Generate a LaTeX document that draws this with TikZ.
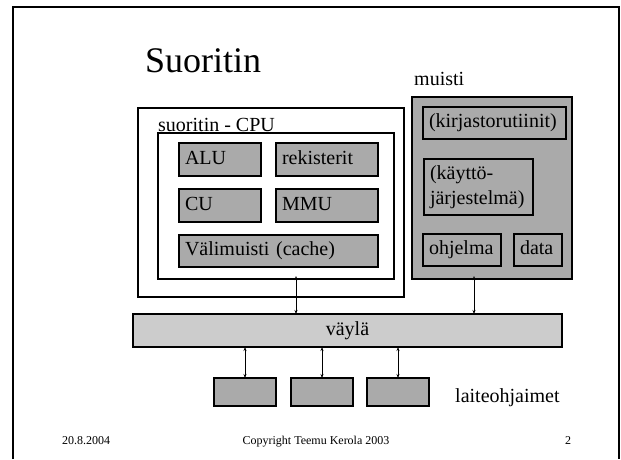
\documentclass[tikz,border=0pt]{standalone}
\usepackage{fontspec}
\setmainfont{Liberation Serif}
\usetikzlibrary{arrows.meta}
\definecolor{compgray}{RGB}{170,170,170}
\definecolor{busgray}{RGB}{204,204,204}
\begin{document}
\begin{tikzpicture}[x=1pt,y=-1pt,
  comp/.style={draw, line width=1.1pt, fill=compgray, anchor=north west, inner xsep=6pt, inner ysep=0pt, outer sep=0pt, align=left, text height=14pt, text depth=4.5pt, font=\fontsize{20}{25}\selectfont},
  box/.style={draw, line width=2.6pt, anchor=north west, inner sep=0pt, outer sep=0pt},
  dev/.style={draw, line width=2.6pt, fill=compgray, anchor=north west, inner sep=0pt, outer sep=0pt, minimum width=62pt, minimum height=28pt},
  lbl/.style={anchor=base west, inner sep=0pt, font=\fontsize{20}{24}\selectfont},
  foot/.style={anchor=base, inner sep=0pt, font=\fontsize{12}{14}\selectfont},
  arr/.style={{Stealth[length=4pt,width=3pt]}-{Stealth[length=4pt,width=3pt]}, line width=0.8pt}
]
\useasboundingbox (0,0) rectangle (621,459);
\fill[white] (0,0) rectangle (621,459);
% slide frame
\draw[line width=1.6pt] (13,459) -- (13,7) -- (619,7) -- (619,459);
% title
\node[anchor=base west, inner sep=0pt, font=\fontsize{36}{40}\selectfont] (title) at (145,72) {Suoritin};
% CPU
\node[box, minimum width=266pt, minimum height=189pt] (cpu) at (138,108) {};
\node[box, minimum width=236pt, minimum height=146pt] (inner) at (158,133) {};
\node[lbl] (cpulbl) at (158,131) {suoritin - CPU};
\node[comp, minimum width=82pt, minimum height=33pt, text width=70pt] (alu) at (179,143) {ALU};
\node[comp, minimum width=102pt, minimum height=33pt, text width=90pt] (reg) at (276,143) {rekisterit};
\node[comp, minimum width=82pt, minimum height=33pt, text width=70pt] (cu) at (179,189) {CU};
\node[comp, minimum width=102pt, minimum height=33pt, text width=90pt] (mmu) at (276,189) {MMU};
\node[comp, minimum width=199pt, minimum height=32pt, text width=187pt] (cache) at (179,235) {Välimuisti (cache)};
% memory
\node[lbl] (memlbl) at (414,85) {muisti};
\node[box, fill=compgray, minimum width=160pt, minimum height=182pt] (mem) at (412,97) {};
\node[comp, minimum width=143pt, minimum height=32pt, text width=131pt] (lib) at (423,107) {(kirjastorutiinit)};
\node[comp, minimum width=109pt, minimum height=56pt, text width=97pt, text depth=29.5pt] (os) at (424,159) {(käyttö-\\järjestelmä)};
\node[comp, minimum width=78pt, minimum height=32pt, text width=66pt] (prog) at (423,234) {ohjelma};
\node[comp, minimum width=48pt, minimum height=32pt, text width=36pt] (data) at (514,234) {data};
% bus
\node[draw, line width=2pt, fill=busgray, anchor=north west, inner sep=0pt, outer sep=0pt, minimum width=429pt, minimum height=33pt, text height=14pt, text depth=4.5pt, font=\fontsize{20}{24}\selectfont] (bus) at (133,314) {väylä};
% devices
\node[dev] (d1) at (214,378) {};
\node[dev] (d2) at (291,378) {};
\node[dev] (d3) at (367,378) {};
\node[lbl] (devlbl) at (455,402) {laiteohjaimet};
% connectors
\coordinate (cpux) at (296,0);
\coordinate (memx) at (474,0);
\draw[arr] ([yshift=3pt]inner.south -| cpux) -- (bus.north -| cpux);
\draw[arr] ([yshift=3pt]mem.south -| memx) -- (bus.north -| memx);
\draw[arr] (bus.south -| d1.north) -- (d1.north);
\draw[arr] (bus.south -| d2.north) -- (d2.north);
\draw[arr] (bus.south -| d3.north) -- (d3.north);
% footer
\node[foot] (date) at (86,444) {20.8.2004};
\node[foot] (copy) at (316,444) {Copyright Teemu Kerola 2003};
\node[foot] (page) at (568,444) {2};
\end{tikzpicture}
\end{document}
